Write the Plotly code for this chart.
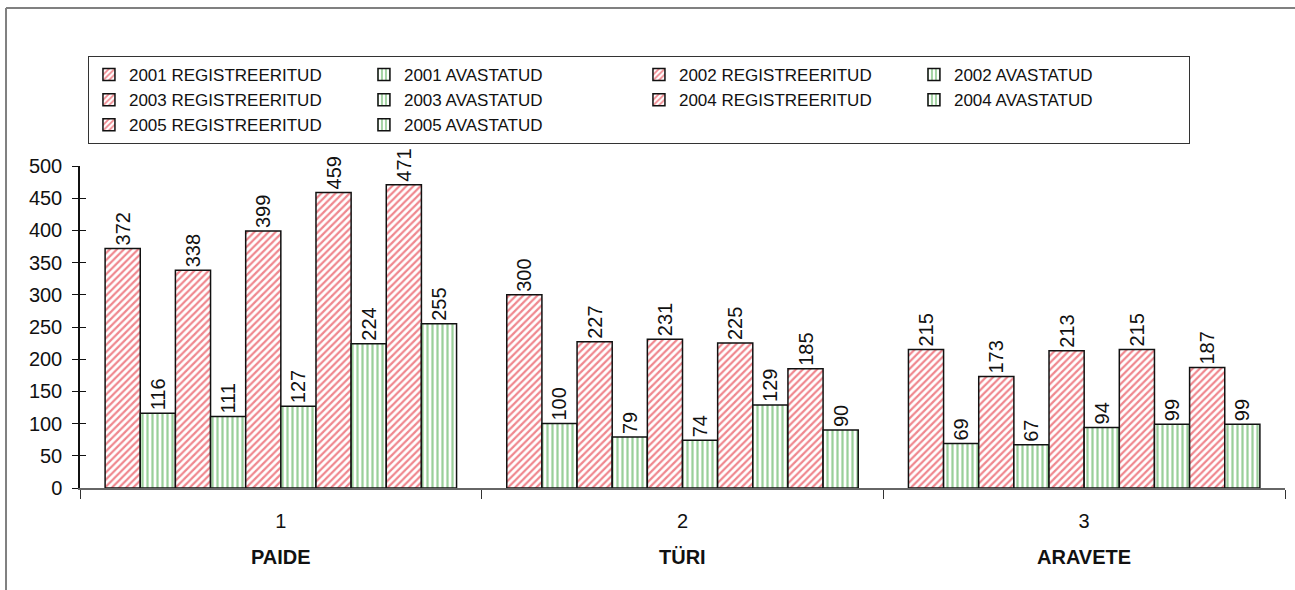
import plotly.graph_objects as go

towns = ["PAIDE", "TÜRI", "ARAVETE"]
cats = ["1", "2", "3"]
years = ["2001", "2002", "2003", "2004", "2005"]
registered = {
    "2001": [372, 300, 215],
    "2002": [338, 227, 173],
    "2003": [399, 231, 213],
    "2004": [459, 225, 215],
    "2005": [471, 185, 187],
}
detected = {
    "2001": [116, 100, 69],
    "2002": [111, 79, 67],
    "2003": [127, 74, 94],
    "2004": [224, 129, 99],
    "2005": [255, 90, 99],
}
y_ticks = [0, 50, 100, 150, 200, 250, 300, 350, 400, 450, 500]

FONT = "Liberation Sans, Arial, sans-serif"
RED = "#e0101e"
GREEN = "#35a035"

fig = go.Figure()
for yr in years:
    for name, vals, col, shp in [
        ("REGISTREERITUD", registered[yr], RED, "/"),
        ("AVASTATUD", detected[yr], GREEN, "|"),
    ]:
        fig.add_trace(go.Bar(
            x=cats, y=vals, name=f"{yr} {name}",
            marker=dict(color="white",
                        line=dict(color="#111111", width=1.5),
                        pattern=dict(shape=shp, fgcolor=col, bgcolor="white",
                                     size=5, solidity=0.45)),
            texttemplate="%{y}", textposition="outside", textangle=-90,
            constraintext="none", cliponaxis=False,
            textfont=dict(size=20, color="#111111", family=FONT),
        ))

# invisible trace on overlay axis for crossing ticks
fig.add_trace(go.Scatter(x=cats, y=[0, 0, 0], yaxis="y2", mode="markers",
                         marker=dict(opacity=0), showlegend=False, hoverinfo="skip"))

annotations = []
for i, t in enumerate(towns):
    annotations.append(dict(x=i, y=-0.214, xref="x", yref="paper", yanchor="middle",
                            text=f"<b>{t}</b>", showarrow=False,
                            font=dict(size=20, family=FONT, color="#111111")))

shapes = [
    dict(type="line", xref="paper", yref="paper", x0=-0.0614, x1=1.02, y0=1.4907, y1=1.4907,
         line=dict(color="#808080", width=2)),
    dict(type="line", xref="paper", yref="paper", x0=-0.0614, x1=-0.0614, y0=1.4907, y1=-0.35,
         line=dict(color="#808080", width=2)),
]

fig.update_layout(
    width=1295, height=590,
    margin=dict(l=80, r=10, t=166, b=102),
    paper_bgcolor="white", plot_bgcolor="white",
    font=dict(family=FONT, size=20, color="#111111"),
    barmode="group", bargap=0.125, bargroupgap=0,
    xaxis=dict(type="category", categoryorder="array", categoryarray=cats,
               range=[-0.5, 2.5],
               tickson="boundaries", ticks="outside", ticklen=9, tickcolor="#333333",
               showline=True, linecolor="#666666", linewidth=1.5, showgrid=False,
               tickfont=dict(size=20), ticklabelstandoff=14),
    yaxis=dict(range=[0, 500], tickvals=y_ticks, ticks="outside", ticklen=6,
               tickcolor="#111111", showline=True, linecolor="#111111", linewidth=1.5,
               showgrid=False, zeroline=False, tickfont=dict(size=20),
               ticklabelstandoff=6),
    yaxis2=dict(range=[0, 500], tickvals=y_ticks, ticks="inside", ticklen=6,
                tickcolor="#111111", overlaying="y", side="left", showticklabels=False,
                showgrid=False, zeroline=False, showline=False),
    legend=dict(orientation="h", x=0.0066, y=1.3416, xanchor="left", yanchor="top",
                entrywidth=230, entrywidthmode="pixels", traceorder="normal",
                bordercolor="#333333", borderwidth=1, bgcolor="white",
                font=dict(size=17, family=FONT), tracegroupgap=0, itemwidth=30),
    annotations=annotations,
    shapes=shapes,
    showlegend=True,
)

fig.write_html("out.html", config={"displayModeBar": False},
               post_script="document.body.style.margin='0px';")
